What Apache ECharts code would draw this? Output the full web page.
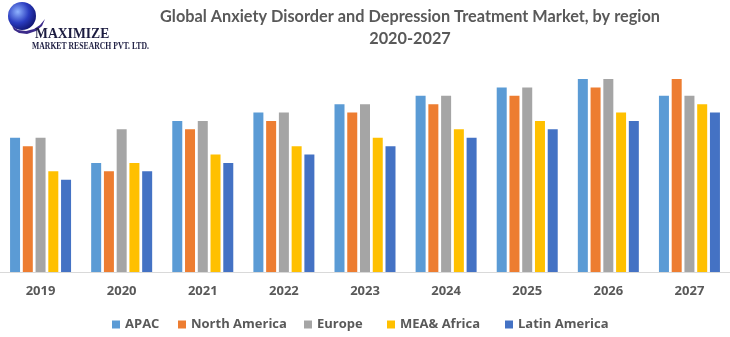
<!DOCTYPE html>
<html>
<head>
<meta charset="utf-8">
<script src="https://cdn.jsdelivr.net/npm/echarts@6/dist/echarts.min.js"></script>
<style>html,body{margin:0;padding:0;background:#fff;}#c{width:730px;height:337px;}</style>
</head>
<body>
<div id="c"></div>
<script>
const categories = ['2019','2020','2021','2022','2023','2024','2025','2026','2027'];
const seriesNames = ['APAC','North America','Europe','MEA& Africa','Latin America'];
const apac = [16, 13, 18, 19, 20, 21, 22, 23, 21];
const northAmerica = [15, 12, 17, 18, 19, 20, 21, 22, 23];
const europe = [16, 17, 18, 19, 20, 21, 22, 23, 21];
const meaAfrica = [12, 13, 14, 15, 16, 17, 18, 19, 20];
const latinAmerica = [11, 12, 13, 14, 15, 16, 17, 18, 19];
const titleLine1 = 'Global Anxiety Disorder and Depression Treatment Market, by region';
const titleLine2 = '2020-2027';

const colors = ['#5B9BD5','#ED7D31','#A5A5A5','#FFC000','#4472C4'];
const values = [apac, northAmerica, europe, meaAfrica, latinAmerica];
const textColor = '#595959';
const chart = echarts.init(document.getElementById('c'));

const legendLefts = [112, 178, 304, 387, 505];
const legends = seriesNames.map((n, i) => ({
  data: [n], left: legendLefts[i], top: 318, itemWidth: 8, itemHeight: 8, icon: 'rect', itemGap: 5,
  textStyle: { color: textColor, fontFamily: 'Open Sans', fontWeight: 'bold', fontSize: 13 },
  padding: 0
}));

chart.setOption({
  animation: false,
  color: colors,
  legend: legends,
  grid: { left: -2.5, width: 736, top: 70.6, bottom: 65, containLabel: false },
  xAxis: {
    type: 'category', data: categories,
    axisLine: { lineStyle: { color: '#D9D9D9', width: 1 } },
    axisTick: { show: false },
    axisLabel: { color: textColor, fontFamily: 'Open Sans', fontWeight: 'bold', fontSize: 13, margin: 13 }
  },
  yAxis: { type: 'value', min: 0, max: 24, show: false, splitLine: { show: false } },
  series: seriesNames.map((n, i) => ({
    name: n, type: 'bar', data: values[i], barWidth: 10, barGap: '27.5%', itemStyle: { color: colors[i] }
  })),
  graphic: [
    { type: 'text', x: 410, y: 17, style: { text: titleLine1, font: 'bold 16.3px Lato', fill: textColor, textAlign: 'center', textVerticalAlign: 'middle' } },
    { type: 'text', x: 410, y: 39, style: { text: titleLine2, font: 'bold 16.3px Lato', fill: textColor, textAlign: 'center', textVerticalAlign: 'middle' } },
    { type: 'circle', shape: { cx: 22, cy: 16, r: 14 }, style: { fill: new echarts.graphic.RadialGradient(0.35, 0.35, 0.8, [{offset:0,color:'#8fb3ff'},{offset:0.5,color:'#2a3cc0'},{offset:1,color:'#0a0a5a'}]) } },
    { type: 'polygon', shape: { points: [[12,26],[18,30],[26,31],[34,29],[40,25],[45,19],[42,26],[36,31],[27,34],[19,33],[14,30]] }, style: { fill: '#3b2a8a' } },
    { type: 'text', x: 35, y: 34, scaleX: 0.91, style: { text: 'MAXIMIZE', font: 'bold 15px "Liberation Serif"', fill: '#1c1c40', textVerticalAlign: 'middle' } },
    { type: 'text', x: 32, y: 47, scaleX: 0.81, style: { text: 'MARKET RESEARCH PVT. LTD.', font: 'bold 9.5px "Liberation Serif"', fill: '#1c1c40', textVerticalAlign: 'middle' } }
  ]
});
</script>
</body>
</html>
